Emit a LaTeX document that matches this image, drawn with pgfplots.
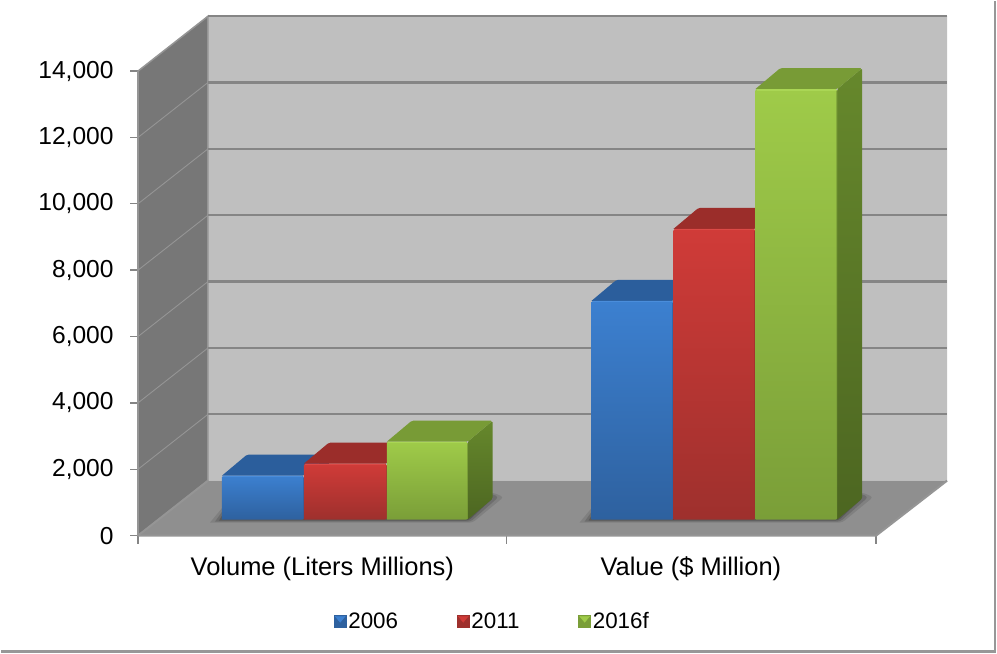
\documentclass[border=0pt]{standalone}
\usepackage{fontspec}
\setmainfont{Liberation Sans}
\usepackage{pgfplots}
\pgfplotsset{compat=1.18}

\definecolor{wallback}{HTML}{BFBFBF}
\definecolor{wallside}{HTML}{777777}
\definecolor{wallfloor}{HTML}{8F8F8F}
\definecolor{gridc}{HTML}{858585}
\definecolor{rimc}{HTML}{959595}

\definecolor{blueA}{HTML}{3C80D0}\definecolor{blueB}{HTML}{2E619F}
\definecolor{blueT}{HTML}{2B5E9C}\definecolor{blueS}{HTML}{24507F}\definecolor{blueE}{HTML}{4A8DDB}
\definecolor{redA}{HTML}{D03B38}\definecolor{redB}{HTML}{9E302D}
\definecolor{redT}{HTML}{9B2D2A}\definecolor{redS}{HTML}{7E2523}\definecolor{redE}{HTML}{DC4A47}
\definecolor{greenA}{HTML}{9FCB49}\definecolor{greenB}{HTML}{7A9E38}
\definecolor{greenT}{HTML}{789B36}\definecolor{greenS}{HTML}{66882C}\definecolor{greenE}{HTML}{AAD655}

% x0 x1 xback0 xback1 top topback colour
\newcommand{\barbox}[7]{
  \addplot[forget plot,draw=none,top color=#7S,bottom color=#7S!75!black,rounded corners=1.5pt]
    coordinates {(#2,482) (#4,1114) (#4,#6) (#2,#5) (#2,482)};
  \addplot[forget plot,draw=none,fill=#7T,rounded corners=1.5pt]
    coordinates {(#1,#5) (#3,#6) (#4,#6) (#2,#5) (#1,#5)};
  \addplot[forget plot,draw=none,top color=#7A,bottom color=#7B,rounded corners=1.5pt]
    coordinates {(#1,482) (#2,482) (#2,#5) (#1,#5) (#1,482)};
  \addplot[forget plot,draw=#7E,line width=1.2pt] coordinates {(#1+1.5,#5-25) (#2-1.5,#5-25)};
  \addplot[forget plot,draw=#7B,line width=1pt,opacity=0.7] coordinates {(#2-0.5,500) (#2-0.5,#5-60)};
}
% soft shadow on the floor, in three layers: x left, x front right, x far right
\newcommand{\floorshadow}[3]{
  \addplot[forget plot,draw=none,fill=black,fill opacity=0.10,rounded corners=3pt]
    coordinates {(#1,392) (#2,392) (#3,1160) (#3-10,1290) (#1+14,900) (#1,392)};
  \addplot[forget plot,draw=none,fill=black,fill opacity=0.14,rounded corners=3pt]
    coordinates {(#1+5,420) (#2-2,420) (#3-5,1160) (#3-12,1260) (#1+14,800) (#1+5,420)};
  \addplot[forget plot,draw=none,fill=black,fill opacity=0.18,rounded corners=3pt]
    coordinates {(#1+9,450) (#2-4,450) (#3-10,1150) (#3-15,1230) (#1+14,700) (#1+9,450)};
}

\begin{document}
\begin{tikzpicture}
\begin{axis}[
  scale only axis,
  width=810pt, height=520pt,
  xmin=137, xmax=947,
  ymin=0, ymax=15652,
  clip=false,
  axis line style={draw=none},
  xtick={321.5,690.5},
  xticklabels={Volume (Liters Millions),Value (\$ Million)},
  minor xtick={137,506,876},
  ytick={0,2000,4000,6000,8000,10000,12000,14000},
  xtick pos=bottom, ytick pos=left,
  tick align=outside,
  major tick length=8pt, minor tick length=8pt,
  major x tick style={draw=none},
  minor x tick style={draw=gridc,line width=1.4pt},
  major y tick style={draw=gridc,line width=1.4pt},
  scaled y ticks=false,
  /pgf/number format/.cd, 1000 sep={,}, assume math mode=true,
  /pgfplots/.cd,
  yticklabel style={font=\fontsize{24.6}{28}\selectfont,xshift=-13pt},
  xticklabel style={font=\fontsize{25.5}{30}\selectfont,yshift=-10pt},
  legend style={at={(0.438,-0.165)},anchor=center,draw=none,fill=none,
    font=\fontsize{22.4}{26}\selectfont,legend columns=3,inner sep=0pt,
    /tikz/column 2/.style={column sep=57pt},
    /tikz/column 4/.style={column sep=57pt},
    /tikz/column 1/.style={column sep=0pt},
    /tikz/column 3/.style={column sep=0pt},
    /tikz/column 5/.style={column sep=0pt}},
]
% page size
\addplot[forget plot,draw=none,fill=none] coordinates {(0,16103.5) (997,-3551.8)};
% frame
\addplot[forget plot,draw=gridc!85,line width=2.5pt] coordinates {(0,-3492) (995,-3492) (995,16103.5)};

% back wall, side wall, floor
\addplot[forget plot,draw=none,fill=wallback]
  coordinates {(207,1655) (947,1655) (947,15652) (207,15652) (207,1655)};
\addplot[forget plot,draw=rimc,line width=1.5pt,fill=wallside]
  coordinates {(137,0) (207,1655) (207,15652) (137,14000) (137,0)};
\addplot[forget plot,draw=none,fill=wallfloor]
  coordinates {(137,0) (876,0) (947,1655) (207,1655) (137,0)};

% grid on the side wall
\addplot[forget plot,draw=rimc,line width=0.9pt] coordinates {(137,2000) (207,3655)};
\addplot[forget plot,draw=rimc,line width=0.9pt] coordinates {(137,4000) (207,5655)};
\addplot[forget plot,draw=rimc,line width=0.9pt] coordinates {(137,6000) (207,7655)};
\addplot[forget plot,draw=rimc,line width=0.9pt] coordinates {(137,8000) (207,9655)};
\addplot[forget plot,draw=rimc,line width=0.9pt] coordinates {(137,10000) (207,11655)};
\addplot[forget plot,draw=rimc,line width=0.9pt] coordinates {(137,12000) (207,13655)};
% grid on the back wall
\addplot[forget plot,draw=gridc,line width=2.2pt] coordinates {(207,3655) (947,3655)};
\addplot[forget plot,draw=gridc,line width=2.2pt] coordinates {(207,5655) (947,5655)};
\addplot[forget plot,draw=gridc,line width=2.2pt] coordinates {(207,7655) (947,7655)};
\addplot[forget plot,draw=gridc,line width=2.2pt] coordinates {(207,9655) (947,9655)};
\addplot[forget plot,draw=gridc,line width=2.2pt] coordinates {(207,11655) (947,11655)};
\addplot[forget plot,draw=gridc,line width=2.2pt] coordinates {(207,13655) (947,13655)};
\addplot[forget plot,draw=gridc,line width=2.2pt] coordinates {(207,15652) (947,15652)};
% floor edges and axis line
\addplot[forget plot,draw=rimc,line width=2pt] coordinates {(137,0) (876,0) (947,1655)};
\addplot[forget plot,draw=rimc,line width=2pt] coordinates {(137,0) (207,1655)};
\addplot[forget plot,draw=rimc,line width=2pt] coordinates {(137,0) (137,14000)};

\floorshadow{209}{472}{503}
\floorshadow{579}{842}{873}

% Volume (Liters Millions)
\barbox{221}{303}{246}{328}{1806}{2438}{blue}
\barbox{303}{386}{328}{411}{2167}{2799}{red}
\barbox{386}{467}{411}{492}{2829}{3461}{green}
% Value ($ Million)
\barbox{591}{673}{616}{698}{7074}{7706}{blue}
\barbox{673}{755}{698}{780}{9241}{9873}{red}
\barbox{755}{837}{780}{862}{13455}{14087}{green}

% legend
\addlegendimage{legend image code/.code={
  \fill[blueB] (0pt,-6pt) rectangle (12pt,6pt);
  \fill[blueA] (1pt,5pt) -- (11pt,5pt) -- (6pt,-1pt) -- cycle;}}
\addlegendentry{2006}
\addlegendimage{legend image code/.code={
  \fill[redB] (0pt,-6pt) rectangle (12pt,6pt);
  \fill[redA] (1pt,5pt) -- (11pt,5pt) -- (6pt,-1pt) -- cycle;}}
\addlegendentry{2011}
\addlegendimage{legend image code/.code={
  \fill[greenB] (0pt,-6pt) rectangle (12pt,6pt);
  \fill[greenA] (1pt,5pt) -- (11pt,5pt) -- (6pt,-1pt) -- cycle;}}
\addlegendentry{2016f}
\end{axis}
\end{tikzpicture}
\end{document}
